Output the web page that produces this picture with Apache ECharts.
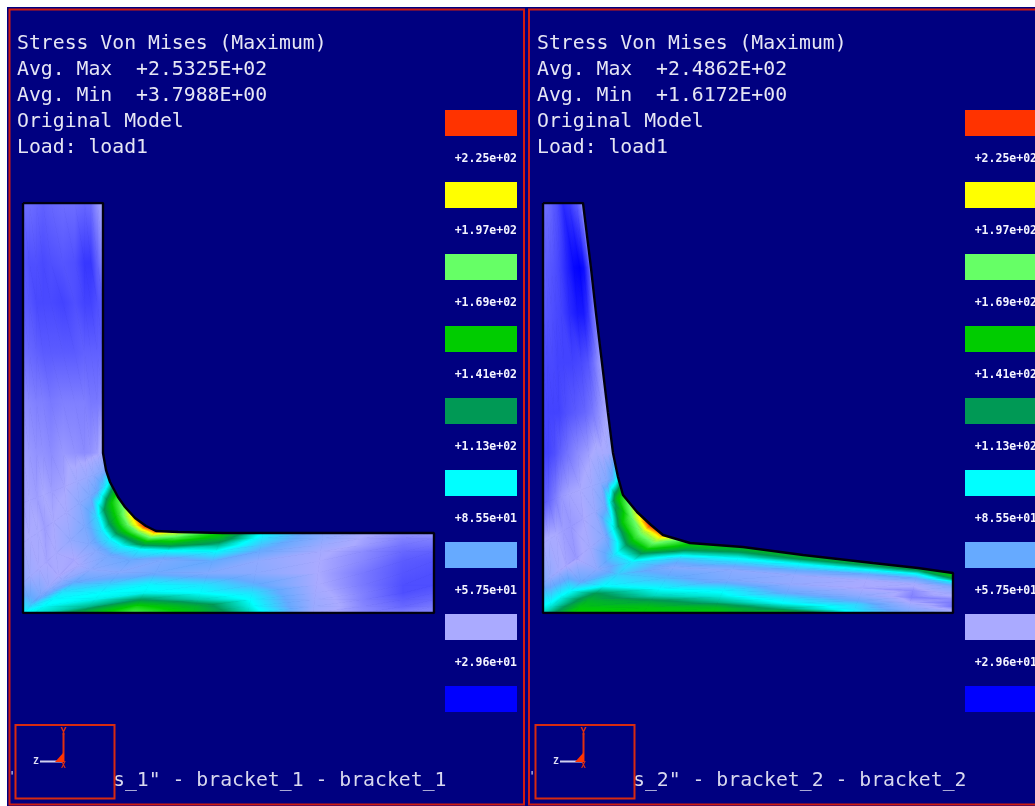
<!DOCTYPE html>
<html><head><meta charset="utf-8">
<style>html,body{margin:0;padding:0;background:#fff;overflow:hidden}#c{width:1035px;height:806px}</style>
<script src="https://cdn.jsdelivr.net/npm/echarts@6/dist/echarts.min.js"></script>
</head><body><div id="c"></div>
<script>
// ---- legend
const legendColors = ['#ff3300','#ffff00','#66ff66','#00cc00','#009955','#00ffff','#66aaff','#aaaaff','#0000ff'];
const legendCentres = [239,211,183,155,127,99,71,43,15];
const legendLabels = ['+2.25e+02','+1.97e+02','+1.69e+02','+1.41e+02','+1.13e+02','+8.55e+01','+5.75e+01','+2.96e+01',''];
// ---- header text
const headerLeft = ['Stress Von Mises (Maximum)','Avg. Max  +2.5325E+02','Avg. Min  +3.7988E+00','Original Model','Load: load1'];
const headerRight = ['Stress Von Mises (Maximum)','Avg. Max  +2.4862E+02','Avg. Min  +1.6172E+00','Original Model','Load: load1'];
const footerLeft = 's_1" - bracket_1 - bracket_1';
const footerRight = 's_2" - bracket_2 - bracket_2';
// ---- mesh: fraction across the section, outer edge (0) to inner edge (1)
const layers = [0,.08,.17,.25,.35,.5,.65,.77,.85,.93,1];
// ---- bracket 1 stations
const outer1 = [[0,410],[0,350],[0,310],[0,260],[0,210],[0,160],[0,110],[0,70],[0,30],[0,0],[0,0],[12,0],[60,0],[110,0],[170,0],[225,0],[290,0],[340,0],[380,0],[411,0]];
const inner1 = [[80,410],[80,350],[80,310],[80,260],[80,210],[80,160],[83,143],[87,131],[95,116],[102,106],[112,95],[123,87],[133,82],[155,81],[200,80],[240,80],[300,80],[340,80],[380,80],[411,80]];
const stress1 = [
[33,33,32,31,32,33,33,32,33,39,43],
[30,28,28,27,28,29,28,24,24,31,37],
[30,29,27,27,27,26,28,26,26,28,30],
[33,32,31,30,30,30,30,31,31,31,31],
[38,37,36,36,35,36,36,36,35,35,36],
[41,40,39,39,38,40,39,38,39,41,47],
[41,42,41,43,41,42,47,50,54,58,62],
[44,43,44,41,43,45,55,62,70,85,105],
[55,48,44,42,44,52,62,85,125,155,172],
[98,80,62,50,43,42,60,88,130,165,190],
[98,85,70,60,52,45,58,92,135,180,222],
[105,100,96,88,72,54,64,95,130,185,245],
[140,118,102,98,84,58,70,95,140,190,235],
[175,160,125,102,96,66,62,99,140,175,205],
[150,140,112,99,90,60,72,98,118,140,155],
[112,104,98,90,75,56,54,70,80,90,98],
[48,50,48,46,44,43,43,45,50,55,58],
[38,37,36,36,35,35,37,38,41,42,44],
[36,32,30,28,28,29,30,32,34,36,39],
[37,35,32,30,28,28,29,31,34,36,40]];
// ---- bracket 2 stations
const outer2 = [[0,410],[0,345],[0,300],[0,250],[0,200],[0,160],[0,110],[0,70],[0,30],[0,0],[30,0],[100,0],[170,0],[235,0],[310,0],[365,0],[410,0]];
const inner2 = [[40,410],[48,345],[53,300],[59,250],[65,200],[70,160],[75,136],[80,118],[94,101],[108,88],[120,78],[147,70],[200,66],[260,58],[330,50],[375,45],[410,40]];
const stress2 = [
[33,33,32,30,28,22,24,28,30,34,40],
[32,30,29,28,26,21,16,15,17,25,35],
[30,29,28,27,26,22,19,19,23,31,39],
[28,27,27,26,26,26,27,29,33,38,42],
[27,26,26,26,28,30,32,35,38,41,43],
[26,26,28,31,34,38,41,45,44,46,50],
[30,32,36,40,42,43,47,55,60,75,100],
[44,44,43,41,40,42,50,65,110,150,165],
[62,52,46,42,40,46,58,110,155,178,205],
[110,106,104,98,72,55,85,125,165,195,245],
[158,150,140,128,98,82,92,130,168,195,228],
[155,150,132,110,98,76,60,80,110,140,158],
[155,145,118,105,95,62,56,85,105,130,150],
[150,122,100,90,70,52,52,80,100,128,148],
[96,90,85,70,55,42,44,70,95,122,142],
[68,58,50,42,36,38,46,70,92,120,142],
[50,42,34,35,38,48,60,92,125,150,160]];

function triangles(outer, inner, stress){
  const node=(i,j)=>{const t=layers[j];return [outer[i][0]+(inner[i][0]-outer[i][0])*t, outer[i][1]+(inner[i][1]-outer[i][1])*t, stress[i][j]];};
  const out=[];
  for(let i=0;i<outer.length-1;i++)for(let j=0;j<layers.length-1;j++){
    const a=node(i,j),b=node(i+1,j),c=node(i+1,j+1),d=node(i,j+1);
    out.push([...a,...b,...c]);out.push([...a,...c,...d]);
  }
  return out;
}
function outline(outer, inner){
  const p=outer.concat(inner.slice().reverse());p.push(outer[0]);return p;
}
const knots=legendCentres.map((v,i)=>({v,c:legendColors[i]})).sort((a,b)=>a.v-b.v);
function rgb(h){return [1,3,5].map(k=>parseInt(h.substr(k,2),16));}
function colourAt(v){
  if(v<=knots[0].v)return knots[0].c;
  for(let i=1;i<knots.length;i++)if(v<=knots[i].v){
    const f=(v-knots[i-1].v)/(knots[i].v-knots[i-1].v),A=rgb(knots[i-1].c),B=rgb(knots[i].c);
    return 'rgb('+A.map((x,k)=>Math.round(x+(B[k]-x)*f)).join(',')+')';
  }
  return knots[knots.length-1].c;
}
function renderTri(params,api){
  const P=[0,3,6].map(o=>{const q=api.coord([api.value(o),api.value(o+1)]);return {x:q[0],y:q[1],v:api.value(o+2)};});
  const area=(P[1].x-P[0].x)*(P[2].y-P[0].y)-(P[2].x-P[0].x)*(P[1].y-P[0].y);
  if(Math.abs(area)<1e-6)return null;
  const a=((P[1].v-P[0].v)*(P[2].y-P[0].y)-(P[2].v-P[0].v)*(P[1].y-P[0].y))/area;
  const b=((P[2].v-P[0].v)*(P[1].x-P[0].x)-(P[1].v-P[0].v)*(P[2].x-P[0].x))/area;
  const vs=P.map(p=>p.v),lo=Math.min(...vs),hi=Math.max(...vs);
  let fill;
  if(hi-lo<1e-6||a*a+b*b<1e-12){fill=colourAt(lo);}
  else{
    const s=P.find(p=>p.v===lo),k=(hi-lo)/(a*a+b*b);
    const stops=[{offset:0,color:colourAt(lo)}];
    knots.forEach(n=>{if(n.v>lo&&n.v<hi)stops.push({offset:(n.v-lo)/(hi-lo),color:n.c});});
    stops.push({offset:1,color:colourAt(hi)});
    fill=new echarts.graphic.LinearGradient(s.x,s.y,s.x+a*k,s.y+b*k,stops,true);
  }
  return {type:'polygon',shape:{points:P.map(p=>[p.x,p.y])},style:{fill:fill,stroke:fill,lineWidth:.8},silent:true};
}

const PANEL_DX=520;
const grids=[],xs=[],ys=[],series=[],graphic=[];
[[outer1,inner1,stress1],[outer2,inner2,stress2]].forEach((m,k)=>{
  const dx=k*PANEL_DX;
  grids.push({left:23+dx,top:203,width:411,height:410});
  xs.push({type:'value',min:0,max:411,show:false,gridIndex:k*2});
  ys.push({type:'value',min:0,max:410,show:false,gridIndex:k*2});
  grids.push({left:445+dx,top:87,width:72,height:648});
  xs.push({type:'value',min:0,max:1,show:false,gridIndex:k*2+1});
  ys.push({type:'category',inverse:true,data:legendCentres.map(String),show:false,gridIndex:k*2+1});
  series.push({type:'custom',xAxisIndex:k*2,yAxisIndex:k*2,renderItem:renderTri,data:triangles(m[0],m[1],m[2]),silent:true,animation:false,z:3});
  series.push({type:'line',xAxisIndex:k*2,yAxisIndex:k*2,data:outline(m[0],m[1]),showSymbol:false,silent:true,animation:false,lineStyle:{color:'#000010',width:2.4},z:4});
  series.push({type:'bar',xAxisIndex:k*2+1,yAxisIndex:k*2+1,barWidth:26,silent:true,animation:false,z:3,
    data:legendColors.map((c,i)=>({value:1,itemStyle:{color:c},
      label:{show:!!legendLabels[i],formatter:legendLabels[i],position:[72,49],align:'right',verticalAlign:'middle',color:'#f4f4ff',
        fontFamily:'DejaVu Sans Mono',fontSize:11.5,fontWeight:'bold'}}))});
  const head=k?headerRight:headerLeft;
  head.forEach((t,i)=>graphic.push({type:'text',x:17+dx,y:44+26*i,z:10,silent:true,
    style:{text:t,fill:'#e6e6f4',font:'19.8px "DejaVu Sans Mono"',textVerticalAlign:'middle'}}));
  graphic.push({type:'text',x:113+dx,y:781,z:10,silent:true,style:{text:k?footerRight:footerLeft,fill:'#d8d8ee',font:'19.8px "DejaVu Sans Mono"',textVerticalAlign:'middle'}});
  graphic.push({type:'rect',x:0,y:0,z:1,silent:true,shape:{x:9.5+dx-(k?0.5:0),y:9.5,width:514.5,height:795},style:{fill:'none',stroke:'#d01c10',lineWidth:2}});
  // orientation triad box
  graphic.push({type:'rect',z:11,silent:true,shape:{x:15.5+dx,y:725,width:99,height:73.5},style:{fill:'#000080',stroke:'#d82a10',lineWidth:2}});
  graphic.push({type:'line',z:12,silent:true,shape:{x1:40+dx,y1:761.5,x2:63+dx,y2:761.5},style:{stroke:'#d0d0f0',lineWidth:2}});
  graphic.push({type:'line',z:12,silent:true,shape:{x1:63.5+dx,y1:733,x2:63.5+dx,y2:762},style:{stroke:'#e03010',lineWidth:2}});
  graphic.push({type:'polygon',z:13,silent:true,shape:{points:[[55+dx,762],[64+dx,762],[64+dx,752]]},style:{fill:'#ff3300'}});
  graphic.push({type:'text',z:12,x:36+dx,y:762,silent:true,style:{text:'Z',fill:'#e0e0f4',font:'bold 9px "DejaVu Sans Mono"',textAlign:'center',textVerticalAlign:'middle'}});
  graphic.push({type:'text',z:12,x:63.5+dx,y:732,silent:true,style:{text:'Y',fill:'#e03010',font:'bold 10px "DejaVu Sans Mono"',textAlign:'center',textVerticalAlign:'middle'}});
  graphic.push({type:'text',z:12,x:63.5+dx,y:766,silent:true,style:{text:'X',fill:'#e03010',font:'bold 8px "DejaVu Sans Mono"',textAlign:'center',textVerticalAlign:'middle'}});
  graphic.push({type:'text',z:10,x:12+dx,y:777,silent:true,style:{text:"'",fill:'#e0e0f4',font:'12px "DejaVu Sans Mono"',textAlign:'center',textVerticalAlign:'middle'}});
});
// window background panels
graphic.push({type:'rect',z:0,silent:true,shape:{x:7,y:7,width:1028,height:799},style:{fill:'#000080'}});

const chart=echarts.init(document.getElementById('c'),null,{renderer:'canvas'});
chart.setOption({animation:false,backgroundColor:'#ffffff',grid:grids,xAxis:xs,yAxis:ys,series:series,graphic:{elements:graphic},tooltip:{show:false},legend:{show:false}});
</script></body></html>
